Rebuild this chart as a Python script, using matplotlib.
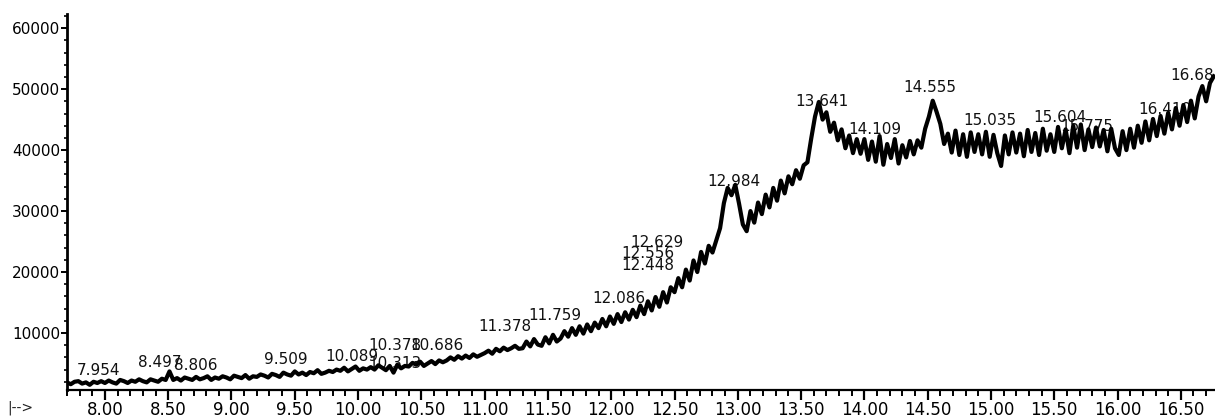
import numpy as np
import matplotlib.pyplot as plt
from matplotlib.ticker import MultipleLocator

# Cromatograma (TIC): muestreo regular del detector cada 0.03 min
t_inicio = 7.70
paso = 0.03

abundancia = [
    1900, 1600, 2000, 2100, 1700, 1900, 1500, 2000, 1800, 2100,
    1800, 2200, 1900, 1700, 2300, 2100, 1800, 2200, 2000, 2400,
    2100, 1900, 2400, 2200, 2000, 2500, 2300, 3700, 2300, 2600,
    2200, 2700, 2500, 2300, 2800, 2400, 2600, 2900, 2300, 2700,
    2500, 2900, 2700, 2400, 3000, 2800, 2600, 3100, 2500, 2900,
    2800, 3200, 3000, 2700, 3300, 3100, 2800, 3500, 3200, 3000,
    3700, 3200, 3500, 3100, 3600, 3400, 3900, 3300, 3500, 3800,
    3600, 4000, 3800, 4300, 3700, 4100, 4500, 3800, 4200, 4000,
    4400, 4000, 4700, 4300, 3900, 4600, 3500, 4800, 4200, 4600,
    4500, 5100, 4800, 5300, 4600, 5000, 5400, 4900, 5500, 5200,
    5500, 6000, 5600, 6200, 5800, 6300, 5900, 6500, 6100, 6400,
    6700, 7100, 6600, 7400, 7000, 7600, 7200, 7500, 7900, 7400,
    7500, 8600, 7800, 9000, 8100, 7900, 9300, 8300, 9700, 8600,
    9100, 10300, 9400, 10800, 9700, 11100, 9900, 11400, 10300, 11700,
    10800, 12300, 11100, 12700, 11500, 13100, 11800, 13400, 12200, 13800,
    12600, 14500, 13100, 15200, 13700, 15900, 14300, 16700, 15000, 17500,
    16700, 19000, 17500, 20400, 18600, 21900, 20000, 23300, 21400, 24300,
    23200, 25200, 27200, 31300, 33800, 32600, 34300, 31200, 27800, 26700,
    30000, 28100, 31400, 29500, 32700, 30600, 33800, 31700, 35000, 32900,
    35700, 34400, 36700, 35300, 37500, 38000, 41900, 45500, 47900, 45000,
    46200, 43000, 44500, 41600, 43400, 40300, 42400, 39500, 41800, 39400,
    41800, 38400, 41400, 38100, 42300, 37600, 41000, 38700, 41800, 37800,
    40800, 38800, 41500, 39300, 41600, 40400, 43500, 45500, 48100, 46300,
    44300, 41000, 42700, 39600, 43200, 39200, 42600, 38900, 42900, 39700,
    42600, 39300, 43000, 38900, 42500, 39500, 37400, 42400, 39300, 42900,
    39600, 42700, 39000, 43300, 39700, 42800, 39200, 43500, 39900, 42600,
    39700, 43800, 40300, 43400, 39500, 44000, 40400, 44200, 40000, 43400,
    40500, 43700, 40600, 43300, 39800, 43500, 40300, 39200, 43100, 40000,
    43500, 40400, 44000, 41200, 44700, 41600, 45100, 42300, 45600, 42700,
    46100, 43400, 46900, 44000, 47400, 44600, 48100, 45200, 48800, 50500,
    48000, 51000, 52100,
]

# Picos integrados y sus tiempos de retención
tiempos_pico = [7.954, 8.497, 8.806, 9.509, 10.089, 10.313, 10.378, 10.686,
                11.378, 11.759, 12.086, 12.448, 12.556, 12.629, 12.984,
                13.641, 14.109, 14.555, 15.035, 15.604, 15.775, 16.410, 16.68]
etiquetas_pico = ['7.954', '8.497', '8.806', '9.509', '10.089', '10.313',
                  '10.378', '10.686', '11.378', '11.759', '12.086', '12.448',
                  '12.556', '12.629', '12.984', '13.641', '14.109', '14.555',
                  '15.035', '15.604', '15.775', '16.410', '16.68']
# colocación de cada etiqueta: altura (abundancia) y corrimiento lateral (px)
altura_etiqueta = [3900, 5200, 4600, 5700, 6200, 5000, 7900, 7900,
                   11000, 12800, 15700, 21000, 23000, 24900, 34900,
                   48000, 43400, 50200, 44900, 45400, 43900, 46600, 52300]
corrimiento_px = [-1, -8, -11, -10, -17, -3, -11, -8,
                  -28, -26, -3, -20, -34, -34, -2,
                  3, -3, -5, -6, -8, -2, -5, -11]

ticks_x = [8.0, 8.5, 9.0, 9.5, 10.0, 10.5, 11.0, 11.5, 12.0,
           12.5, 13.0, 13.5, 14.0, 14.5, 15.0, 15.5, 16.0, 16.5]
ticks_y = [10000, 20000, 30000, 40000, 50000, 60000]


def dibujar_cromatograma():
    tiempos = t_inicio + paso * np.arange(len(abundancia))

    fig = plt.figure(figsize=(12.15, 4.16), dpi=100)
    ax = fig.add_axes([0.0551, 0.0625, 0.9449, 0.9035])

    ax.plot(tiempos, abundancia, color='black', linewidth=3.0, zorder=3)

    # etiquetas de los picos, por debajo de la traza
    for t, txt, h, dx in zip(tiempos_pico, etiquetas_pico, altura_etiqueta, corrimiento_px):
        ax.annotate(txt, xy=(t, h), xytext=(dx, 0), textcoords='offset pixels',
                    ha='center', va='center', fontsize=11, color='#111111',
                    zorder=1, annotation_clip=False)

    ax.set_xlim(7.70, 16.77)
    ax.set_ylim(650, 62300)

    ax.set_xticks(ticks_x)
    ax.set_xticklabels([f'{v:.2f}' for v in ticks_x])
    ax.xaxis.set_minor_locator(MultipleLocator(0.1))
    ax.set_yticks(ticks_y)
    ax.set_yticklabels([str(v) for v in ticks_y])
    ax.yaxis.set_minor_locator(MultipleLocator(2000))

    for lado in ['top', 'right']:
        ax.spines[lado].set_visible(False)
    ax.spines['left'].set_linewidth(2.0)
    ax.spines['bottom'].set_linewidth(1.6)

    ax.tick_params(axis='x', which='major', direction='out', length=7,
                   width=1.6, labelsize=12, pad=1)
    ax.tick_params(axis='x', which='minor', direction='out', length=4, width=1.4)
    ax.tick_params(axis='y', which='major', direction='out', length=4,
                   width=1.4, labelsize=11, pad=1)
    ax.tick_params(axis='y', which='minor', direction='out', length=2, width=1.2)

    # resto del rótulo "Time-->" que queda en la esquina
    fig.text(0.006, 0.012, '|-->', fontsize=10, color='#222222')

    fig.savefig('out.png', dpi=100)


def main():
    dibujar_cromatograma()


if __name__ == "__main__":
    main()
